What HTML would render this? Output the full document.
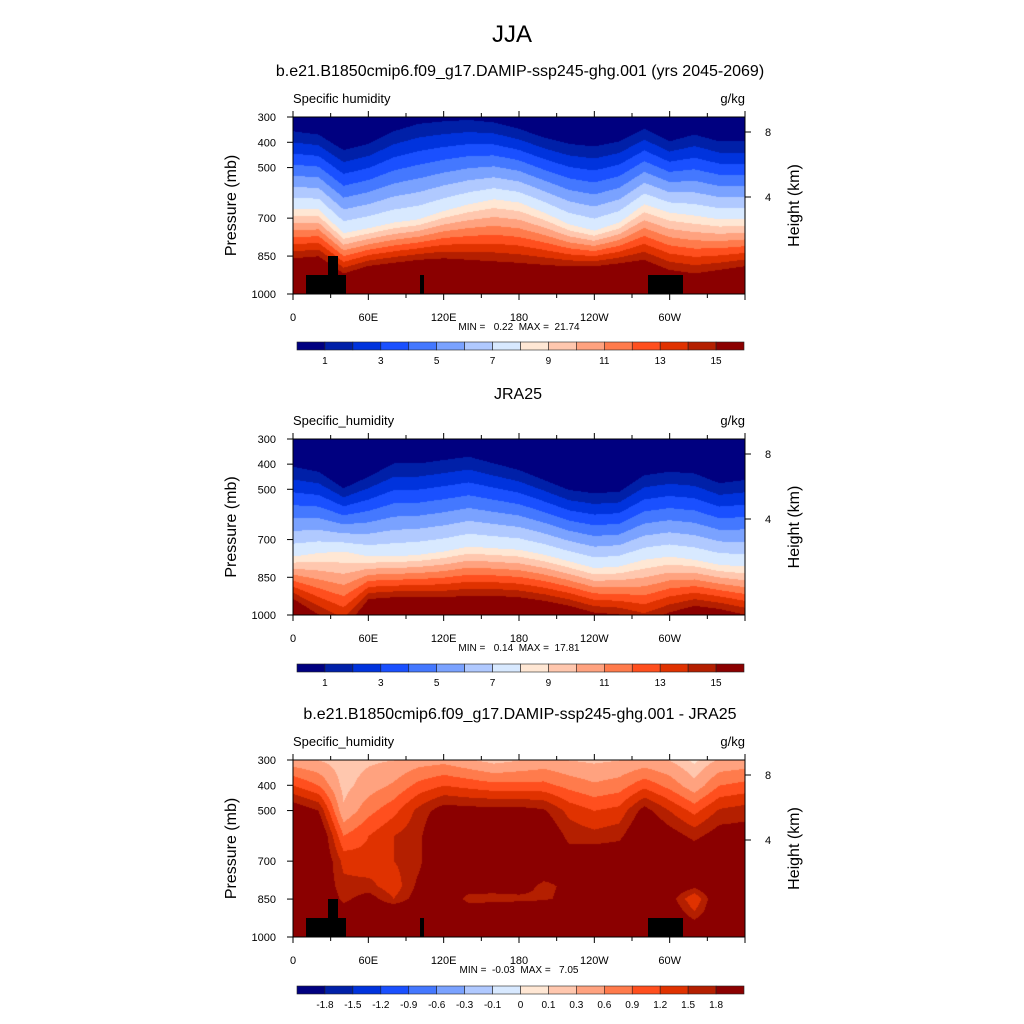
<!DOCTYPE html>
<html><head><meta charset="utf-8">
<style>
body{margin:0;background:#fff;font-family:"Liberation Sans",sans-serif;}
#root{position:relative;width:1024px;height:1024px;overflow:hidden;}
.t{position:absolute;white-space:nowrap;color:#000;}
canvas{position:absolute;}
svg{position:absolute;left:0;top:0;}
</style></head><body>
<div id="root">
<div class="t" style="left:0;width:1024px;text-align:center;top:21px;font-size:24px;">JJA</div>
<div class="t" style="left:0;width:1040px;text-align:center;top:63px;font-size:16px;">b.e21.B1850cmip6.f09_g17.DAMIP-ssp245-ghg.001 (yrs 2045-2069)</div>
<div class="t" style="left:0;width:1036px;text-align:center;top:386px;font-size:16px;">JRA25</div>
<div class="t" style="left:0;width:1040px;text-align:center;top:706px;font-size:16px;">b.e21.B1850cmip6.f09_g17.DAMIP-ssp245-ghg.001 - JRA25</div>
<canvas id="c0" width="452" height="177" style="left:293px;top:117px"></canvas>
<canvas id="c1" width="452" height="176" style="left:293px;top:439px"></canvas>
<canvas id="c2" width="452" height="177" style="left:293px;top:760px"></canvas>
<svg id="ov" width="1024" height="1024"></svg>
</div>
<script>
// ---- data ----
const lons = [0,20,40,60,80,100,120,140,160,180,200,220,240,260,280,300,320,340,360];
const colors = ["#000080","#0020a8","#0033dd","#1a50ff","#4478ff","#7aa2ff","#b0c9ff","#d8e9ff","#ffe7d4","#ffc7ae","#ffa27f","#ff7b4c","#ff4f1e","#e03200","#b41f00","#8b0000"];
const levels12 = [1,2,3,4,5,6,7,8,9,10,11,12,13,14,15];
const levels3 = [-1.8,-1.5,-1.2,-0.9,-0.6,-0.3,-0.1,0,0.1,0.3,0.6,0.9,1.2,1.5,1.8];
const cbLabels12 = ["1","","3","","5","","7","","9","","11","","13","","15"];
const cbLabels3 = ["-1.8","-1.5","-1.2","-0.9","-0.6","-0.3","-0.1","0","0.1","0.3","0.6","0.9","1.2","1.5","1.8"];
// panel 1 (model): pressure of q=1, q=8, q=15 contours per longitude
const m_p1 = [355,368,430,405,355,325,315,310,320,345,380,405,415,395,345,395,368,395,395];
const m_p8 = [665,665,760,740,718,705,672,645,625,638,678,725,750,718,645,678,690,705,705];
const m_p15 = [860,852,920,890,878,866,860,866,872,878,886,892,892,880,866,906,920,906,892];
const m_top = 0.6, m_bot = 20;
// panel 2 (JRA25)
const j_p1 = [409,429,495,449,396,396,382,369,396,422,462,502,515,509,443,429,436,475,462];
const j_p8 = [768,754,748,768,768,761,748,728,735,741,761,787,814,808,781,768,781,801,808];
const j_p15 = [938,1000,1060,938,931,931,931,925,925,931,945,965,992,1000,1030,992,965,978,1000];
const j_top = 0.3, j_bot = 17;
// panel 3 (difference) grid: rows = pressure levels
const d_pres = [300,400,500,600,700,800,850,900,1000];
const d_vals = [
 [0.4,0.3,0.15,0.25,0.3,0.45,0.5,0.35,0.2,0.3,0.4,0.3,0.25,0.3,0.4,0.3,0.05,0.35,0.4],
 [1.2,0.9,0.2,0.45,0.65,1.0,1.2,1.1,1.0,1.0,1.0,0.8,0.65,0.75,1.1,0.8,0.4,0.9,1.0],
 [2.1,1.8,0.35,0.8,1.1,1.6,2.0,1.95,1.95,1.95,1.85,1.4,1.2,1.3,1.95,1.5,1.1,1.55,1.65],
 [2.5,2.3,0.9,1.2,1.5,1.7,2.4,2.3,2.3,2.3,2.2,1.7,1.6,1.7,2.3,2.0,1.7,2.0,2.0],
 [2.5,2.3,1.4,1.3,1.5,1.7,2.4,2.3,2.3,2.3,2.2,2.0,2.2,2.2,2.4,2.2,2.2,2.3,2.3],
 [2.5,2.2,1.6,1.6,1.3,1.9,2.4,2.1,2.0,2.0,1.7,1.9,2.2,2.3,2.4,2.2,1.9,2.3,2.3],
 [2.5,2.3,1.7,2.0,1.5,2.0,2.4,1.6,1.65,1.7,1.75,1.9,2.2,2.3,2.4,2.0,1.2,2.3,2.3],
 [2.5,2.5,2.0,2.2,2.2,2.3,2.4,2.2,2.2,2.2,2.2,2.2,2.3,2.3,2.4,2.2,1.5,2.3,2.3],
 [2.5,2.5,2.2,2.5,2.5,2.5,2.5,2.5,2.5,2.5,2.5,2.5,2.5,2.5,2.5,2.5,2.4,2.5,2.5]];
const ticksP = [300,400,500,700,850,1000];
const ticksLon = [0,60,120,180,240,300];
const lonLabels = ["0","60E","120E","180","120W","60W"];
const heightTicks = [8,4];
const minmax = ["MIN =   0.22  MAX =  21.74","MIN =   0.14  MAX =  17.81","MIN =  -0.03  MAX =   7.05"];

// ---- helpers ----
function hex(c){return [parseInt(c.substr(1,2),16),parseInt(c.substr(3,2),16),parseInt(c.substr(5,2),16)];}
const rgb = colors.map(hex);
function lerpArr(a,lon){const f=lon/20;let i=Math.min(Math.floor(f),17);const t=f-i;return a[i]*(1-t)+a[i+1]*t;}
function contourVal(p1,p8,p15,top,bot,lon,p){
  const a=lerpArr(p1,lon),b=lerpArr(p8,lon),c=lerpArr(p15,lon);
  const pts=[[300,top],[a,1],[b,8],[c,15]];
  if(c<1000) pts.push([1000,bot]);
  for(let k=0;k<pts.length-1;k++){if(p<=pts[k+1][0]){const t=(p-pts[k][0])/(pts[k+1][0]-pts[k][0]);return pts[k][1]+t*(pts[k+1][1]-pts[k][1]);}}
  return pts[pts.length-1][1];
}
function gridVal(lon,p){
  let r=0;while(r<d_pres.length-2&&p>d_pres[r+1])r++;
  const t=(p-d_pres[r])/(d_pres[r+1]-d_pres[r]);
  return lerpArr(d_vals[r],lon)*(1-t)+lerpArr(d_vals[r+1],lon)*t;
}
function bin(v,lv){let i=0;while(i<lv.length&&v>=lv[i])i++;return i;}
function draw(id,fn,lv){
  const cv=document.getElementById(id),ctx=cv.getContext('2d');
  const W=cv.width,H=cv.height,img=ctx.createImageData(W,H);
  for(let y=0;y<H;y++){const p=300+700*y/(H-1);
    for(let x=0;x<W;x++){const lon=360*x/(W-1);const c=rgb[bin(fn(lon,p),lv)];const o=(y*W+x)*4;
      img.data[o]=c[0];img.data[o+1]=c[1];img.data[o+2]=c[2];img.data[o+3]=255;}}
  ctx.putImageData(img,0,0);
}
draw('c0',(l,p)=>contourVal(m_p1,m_p8,m_p15,m_top,m_bot,l,p),levels12);
draw('c1',(l,p)=>contourVal(j_p1,j_p8,j_p15,j_top,j_bot,l,p),levels12);
draw('c2',gridVal,levels3);

// ---- axes overlay ----
const NS='http://www.w3.org/2000/svg';
const ov=document.getElementById('ov');
function el(tag,attrs,txt){const e=document.createElementNS(NS,tag);for(const k in attrs)e.setAttribute(k,attrs[k]);if(txt!==undefined)e.textContent=txt;ov.appendChild(e);return e;}
const X0=293,X1=745;
const tops=[117,439,760],bots=[294,615,937],cbY=[342,664,986];
const xs=lon=>X0+(X1-X0)*lon/360;
for(let k=0;k<3;k++){
  const T=tops[k],B=bots[k],ys=p=>T+(B-T)*(p-300)/700;
  if(k!==1){
    const dy=T-117;
    [[306,275,40,19],[328,256,10,19],[420,275,4,19],[648,275,35,19]].forEach(r=>{
      const m=el('rect',{x:r[0],y:r[1]+dy,width:r[2],height:r[3],fill:'#000'});
      
      
    });
  }
  const fr=el('rect',{x:X0,y:T,width:X1-X0,height:B-T,fill:'none',stroke:'#000','stroke-width':1});
  
  
  for(let lon=0;lon<=360;lon+=30){const major=lon%60===0;const L=major?6:4;
    el('line',{x1:xs(lon),x2:xs(lon),y1:B,y2:B+L,stroke:'#000'});
    el('line',{x1:xs(lon),x2:xs(lon),y1:T,y2:T-L,stroke:'#000'});}
  ticksLon.forEach((lon,i)=>{const t=el('text',{x:xs(lon),y:B+27,'font-size':11,'text-anchor':'middle'},lonLabels[i]);
    
    });
  ticksP.forEach(p=>{el('line',{x1:X0-6,x2:X0,y1:ys(p),y2:ys(p),stroke:'#000'});
    const t=el('text',{x:276,y:ys(p)+4,'font-size':11,'text-anchor':'end'},String(p));
    
    });
  heightTicks.forEach(h=>{const y=T+15+(h===8?0:65);el('line',{x1:X1,x2:X1+6,y1:y,y2:y,stroke:'#000'});
    const t=el('text',{x:765,y:y+4,'font-size':11},String(h));
    
    });
  const yt=el('text',{x:0,y:0,'font-size':16,'text-anchor':'middle',transform:`translate(236,${(T+B)/2}) rotate(-90)`},'Pressure (mb)');
  
  
  const ht=el('text',{x:0,y:0,'font-size':16,'text-anchor':'middle',transform:`translate(799,${(T+B)/2}) rotate(-90)`},'Height (km)');
  
  
  const vl=el('text',{x:293,y:T-14,'font-size':13},k===0?'Specific humidity':'Specific_humidity');
  
  
  const un=el('text',{x:745,y:T-14,'font-size':13,'text-anchor':'end'},'g/kg');
  
  
  const mm=el('text',{x:519,y:B+36,'font-size':10,'text-anchor':'middle',style:'white-space:pre'},minmax[k]);
  
  
  const cx0=297,cw=447/16,cy=cbY[k];
  colors.forEach((c,i)=>{const r=el('rect',{x:cx0+i*cw,y:cy,width:cw,height:8,fill:c,stroke:'#222','stroke-width':0.6});
    
    });
  const labs=k===2?cbLabels3:cbLabels12;
  labs.forEach((s,i)=>{if(!s)return;const t=el('text',{x:cx0+(i+1)*cw,y:cy+22,'font-size':10,'text-anchor':'middle'},s);
    
    });
}
</script>
</body></html>
